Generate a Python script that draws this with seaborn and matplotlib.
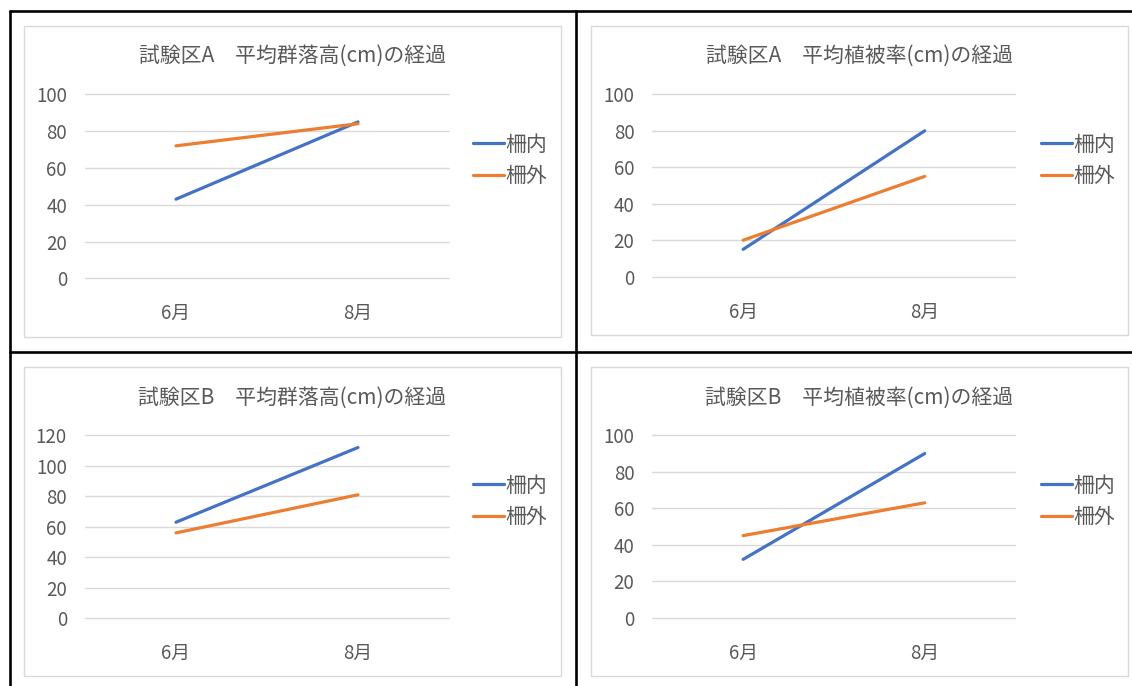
import numpy as np
import pandas as pd
import matplotlib
matplotlib.use("Agg")
import matplotlib.pyplot as plt
from matplotlib.patches import Rectangle
from matplotlib.lines import Line2D
import seaborn as sns

# ---- data ----
months = ["6月", "8月"]
series = ["柵内", "柵外"]

a_height_inside = [43, 85]
a_height_outside = [72, 84]
a_cover_inside = [15, 80]
a_cover_outside = [20, 55]
b_height_inside = [63, 112]
b_height_outside = [56, 81]
b_cover_inside = [32, 90]
b_cover_outside = [45, 63]

titles = [
    "試験区A\u3000平均群落高(cm)の経過",
    "試験区A\u3000平均植被率(cm)の経過",
    "試験区B\u3000平均群落高(cm)の経過",
    "試験区B\u3000平均植被率(cm)の経過",
]
y_max = [100, 100, 120, 100]

# ---- style ----
sns.set_theme(style="white")
plt.rcParams["font.family"] = ["Noto Sans CJK JP", "DejaVu Sans"]
BLUE = "#4472C4"
ORANGE = "#ED7D31"
TEXT = "#595959"
GRID = "#D9D9D9"

W, H = 1132, 686
fig = plt.figure(figsize=(W / 100, H / 100), dpi=100)
fig.patch.set_facecolor("white")


def fig_rect(x0, y0, x1, y1):
    """Pixel box (top-left origin) -> figure fraction rect."""
    return [x0 / W, 1 - y1 / H, (x1 - x0) / W, (y1 - y0) / H]


# table borders
border_kw = dict(color="black", linewidth=1.9, transform=fig.transFigure, zorder=-1)
fig.add_artist(Line2D([10 / W, 1], [1 - 11 / H, 1 - 11 / H], **border_kw))
fig.add_artist(Line2D([10 / W, 10 / W], [1 - 11 / H, 0], **border_kw))
fig.add_artist(Line2D([576 / W, 576 / W], [1 - 11 / H, 0], **border_kw))
fig.add_artist(Line2D([10 / W, 1], [1 - 352 / H, 1 - 352 / H], **border_kw))

# chart areas (pixel boxes), plot areas, legend anchors
chart_boxes = [
    (24, 25.7, 561, 336.7),
    (590.8, 25.7, 1128, 335),
    (24, 367.3, 561, 676),
    (590.8, 367.3, 1128, 676),
]
plot_boxes = [
    (85, 94.3, 449, 278.3),
    (652.4, 94.3, 1015.5, 276.7),
    (85, 435.3, 449, 618.3),
    (652.4, 435.3, 1015.5, 617.7),
]
legend_x = [473, 1040.6, 473, 1040.6]

panels = [
    (a_height_inside, a_height_outside),
    (a_cover_inside, a_cover_outside),
    (b_height_inside, b_height_outside),
    (b_cover_inside, b_cover_outside),
]

for i in range(4):
    cx0, cy0, cx1, cy1 = chart_boxes[i]
    fig.add_artist(Rectangle((cx0 / W, 1 - cy1 / H), (cx1 - cx0) / W, (cy1 - cy0) / H,
                             transform=fig.transFigure, facecolor="white",
                             edgecolor=GRID, linewidth=1.0, zorder=-0.5))
    fig.text(((cx0 + cx1) / 2) / W, 1 - (cy0 + 30) / H, titles[i],
             ha="center", va="center", fontsize=15, color=TEXT)

    inside, outside = panels[i]
    df = pd.DataFrame({
        "month": months * 2,
        "value": list(inside) + list(outside),
        "series": [series[0]] * 2 + [series[1]] * 2,
    })

    ax = fig.add_axes(fig_rect(*plot_boxes[i]))
    ax.set_facecolor("none")
    sns.lineplot(data=df, x="month", y="value", hue="series",
                 palette=[BLUE, ORANGE], linewidth=2.3, sort=False,
                 legend=False, ax=ax, zorder=3)
    for ln in ax.get_lines():
        ln.set_solid_capstyle("round")
        ln.set_clip_on(False)

    ax.set_xlim(-0.5, 1.5)
    ax.set_ylim(0, y_max[i])
    ax.set_yticks(np.arange(0, y_max[i] + 1, 20))
    ax.set_xlabel("")
    ax.set_ylabel("")
    for s in ax.spines.values():
        s.set_visible(False)
    ax.grid(axis="y", color=GRID, linewidth=1.0)
    ax.grid(axis="x", visible=False)
    for gl in ax.get_ygridlines():
        gl.set_clip_on(False)
    ax.set_axisbelow(True)
    ax.tick_params(axis="y", length=0, pad=13, labelsize=13.5, labelcolor=TEXT)
    ax.tick_params(axis="x", length=0, pad=18, labelsize=13.5, labelcolor=TEXT)

    handles = [Line2D([], [], color=BLUE, linewidth=2.3),
               Line2D([], [], color=ORANGE, linewidth=2.3)]
    ly = (plot_boxes[i][1] + 66) / H
    ax.legend(handles, series, loc="center left",
              bbox_to_anchor=(legend_x[i] / W, 1 - ly), bbox_transform=fig.transFigure,
              frameon=False, fontsize=15, labelcolor=TEXT, handlelength=1.5,
              handletextpad=0.05, borderaxespad=0, borderpad=0, labelspacing=0.45)

fig.savefig("out.png", dpi=100, facecolor="white")
